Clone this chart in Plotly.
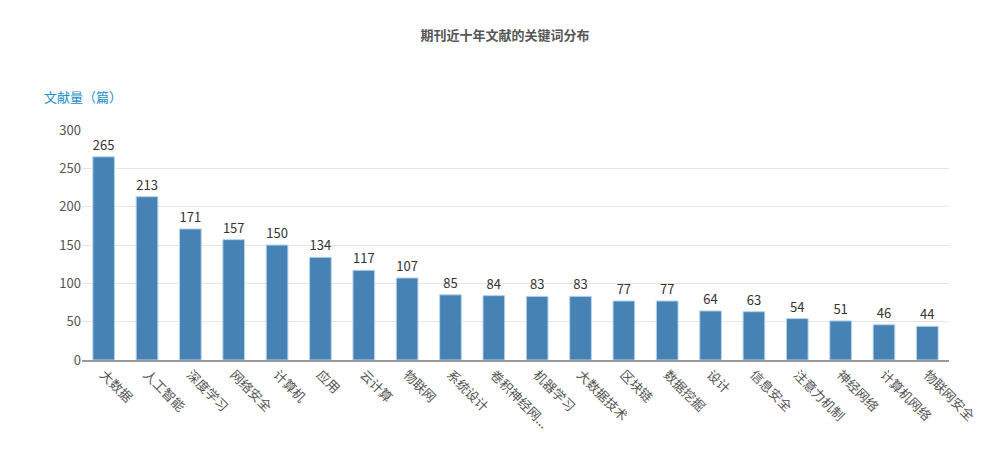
import plotly.graph_objects as go

keywords = ['大数据', '人工智能', '深度学习', '网络安全', '计算机', '应用', '云计算', '物联网',
            '系统设计', '卷积神经网...', '机器学习', '大数据技术', '区块链', '数据挖掘', '设计',
            '信息安全', '注意力机制', '神经网络', '计算机网络', '物联网安全']
counts = [265, 213, 171, 157, 150, 134, 117, 107, 85, 84, 83, 83, 77, 77, 64, 63, 54, 51, 46, 44]

font = "Noto Sans CJK SC"

fig = go.Figure(go.Bar(
    x=keywords,
    y=counts,
    text=counts,
    textposition='outside',
    cliponaxis=False,
    textfont=dict(size=13, color='#333333', family=font),
    marker=dict(color='#4682b4', line=dict(color='#b5d3ee', width=1)),
    hoverinfo='x+y',
))

fig.update_layout(
    width=991, height=468,
    margin=dict(l=82, r=42, t=130, b=108),
    paper_bgcolor='white', plot_bgcolor='white',
    font=dict(family=font, color='#555555'),
    bargap=0.5,
    showlegend=False,
    title=dict(text='<b>期刊近十年文献的关键词分布</b>', x=505/991, xanchor='center',
               y=1 - 35/468, yanchor='middle', font=dict(size=13, color='#555555', family=font)),
    annotations=[dict(text='文献量（篇）', xref='paper', yref='paper', x=-40/867, y=(360-96)/230,
                      xanchor='left', yanchor='middle', showarrow=False,
                      font=dict(size=13, color='#1a8fc9', family=font))],
)
fig.update_xaxes(tickangle=45, tickfont=dict(size=13, color='#555555'), automargin=False,
                 showline=True, linecolor='#999999', linewidth=2, showgrid=False, zeroline=False)
fig.update_yaxes(range=[0, 300], dtick=50, tickfont=dict(size=13, color='#555555'), automargin=False,
                 showline=False, showgrid=True, gridcolor='#e6e6e6', zeroline=False, ticklen=0)

# page body has an 8px default margin, drop it so the figure sits at 0,0
fig.write_html("out.html", config={'displayModeBar': False},
               post_script="document.body.style.margin='0';")
